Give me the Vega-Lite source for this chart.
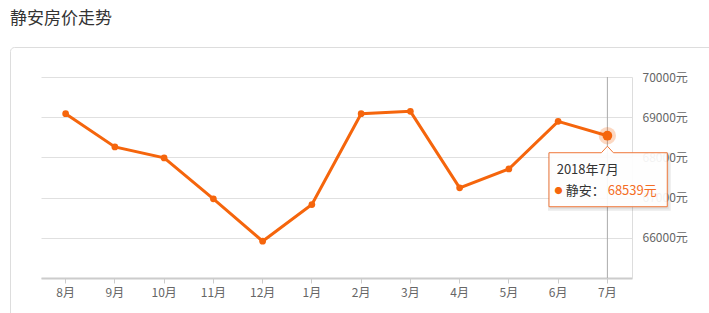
{
  "$schema": "https://vega.github.io/schema/vega-lite/v6.json",
  "width": 710,
  "height": 280,
  "autosize": {"type": "none"},
  "padding": {"left": 10, "top": 47, "right": 0, "bottom": 0},
  "background": "#ffffff",
  "title": {"text": "静安房价走势", "anchor": "start", "frame": "group", "fontSize": 17, "fontWeight": "normal", "color": "#333333", "font": "Noto Sans CJK SC", "offset": 19},
  "config": {"view": {"stroke": "#dddddd", "cornerRadius": 4, "strokeWidth": 1}, "font": "Noto Sans CJK SC"},
  "datasets": {
    "prices": [
      {"month": "8月", "price": 69088},
      {"month": "9月", "price": 68261},
      {"month": "10月", "price": 67988},
      {"month": "11月", "price": 66969},
      {"month": "12月", "price": 65915},
      {"month": "1月", "price": 66827},
      {"month": "2月", "price": 69088},
      {"month": "3月", "price": 69146},
      {"month": "4月", "price": 67242},
      {"month": "5月", "price": 67714},
      {"month": "6月", "price": 68897},
      {"month": "7月", "price": 68539}
    ],
    "tip": [
      {"month": "7月", "price": 68539, "date": "2018年7月", "name": "静安：", "label": "68539元", "dot": "●"}
    ]
  },
  "encoding": {
    "x": {
      "field": "month", "type": "nominal",
      "scale": {"type": "band", "domain": ["8月","9月","10月","11月","12月","1月","2月","3月","4月","5月","6月","7月"], "range": [31, 622], "paddingInner": 0, "paddingOuter": 0},
      "axis": {"title": null, "orient": "bottom", "offset": -49, "domainColor": "#cccccc", "domainWidth": 2, "tickColor": "#cccccc", "tickSize": 5, "labelColor": "#666666", "labelFontSize": 12, "labelPadding": 4, "labelAngle": 0, "grid": false, "zindex": 0}
    },
    "y": {
      "field": "price", "type": "quantitative",
      "scale": {"domain": [65000, 70000], "range": [231, 30], "zero": false, "nice": false},
      "axis": {"title": null, "orient": "left", "offset": -622, "values": [65000, 66000, 67000, 68000, 69000, 70000], "labelExpr": "datum.value == 65000 ? '' : datum.value + '元'", "ticks": false, "domainColor": "#dddddd", "domainWidth": 1, "gridColor": "#e0e0e0", "labelColor": "#666666", "labelFontSize": 12, "labelAlign": "left", "labelPadding": -10, "zindex": 0}
    }
  },
  "layer": [
    {
      "data": {"name": "tip"},
      "mark": {"type": "rule", "color": "#aaaaaa", "strokeWidth": 1},
      "encoding": {"y": {"datum": 70000, "type": "quantitative"}, "y2": {"datum": 65000}}
    },
    {
      "data": {"name": "prices"},
      "mark": {"type": "line", "color": "#f5650c", "strokeWidth": 3}
    },
    {
      "data": {"name": "prices"},
      "mark": {"type": "point", "filled": true, "color": "#f5650c", "size": 45, "opacity": 1}
    },
    {
      "data": {"name": "tip"},
      "mark": {"type": "point", "filled": true, "color": "#f5650c", "size": 300, "opacity": 0.25}
    },
    {
      "data": {"name": "tip"},
      "mark": {"type": "point", "filled": true, "color": "#f5650c", "size": 95, "opacity": 1}
    },
    {
      "data": {"name": "tip"},
      "mark": {"type": "point", "shape": "M-0.574,0.19 L0.614,0.19 L0.614,0.73 L-0.574,0.73 Z", "size": 40000, "fill": "#000000", "fillOpacity": 0.06, "stroke": "#000000", "strokeOpacity": 0.08, "strokeWidth": 4}
    },
    {
      "data": {"name": "tip"},
      "mark": {"type": "point", "shape": "M-0.584,0.17 L-0.06,0.17 L0,0.105 L0.06,0.17 L0.599,0.17 L0.599,0.71 L-0.584,0.71 Z", "size": 40000, "fill": "#ffffff", "fillOpacity": 0.92, "stroke": "#f0783a", "strokeWidth": 1, "opacity": 1}
    },
    {
      "data": {"name": "tip"},
      "mark": {"type": "text", "align": "left", "baseline": "alphabetic", "dx": -50.7, "dy": 38, "fontSize": 13, "color": "#333333", "font": "Noto Sans CJK SC"},
      "encoding": {"text": {"field": "date"}}
    },
    {
      "data": {"name": "tip"},
      "mark": {"type": "text", "align": "center", "baseline": "middle", "dx": -48.8, "dy": 56, "fontSize": 8, "color": "#f5650c", "font": "Noto Sans CJK SC"},
      "encoding": {"text": {"field": "dot"}}
    },
    {
      "data": {"name": "tip"},
      "mark": {"type": "text", "align": "left", "baseline": "alphabetic", "dx": -41.7, "dy": 59.5, "fontSize": 13, "color": "#333333", "font": "Noto Sans CJK SC"},
      "encoding": {"text": {"field": "name"}}
    },
    {
      "data": {"name": "tip"},
      "mark": {"type": "text", "align": "left", "baseline": "alphabetic", "dx": 0.3, "dy": 59.5, "fontSize": 13, "color": "#f46d25", "font": "Noto Sans CJK SC"},
      "encoding": {"text": {"field": "label"}}
    }
  ]
}
